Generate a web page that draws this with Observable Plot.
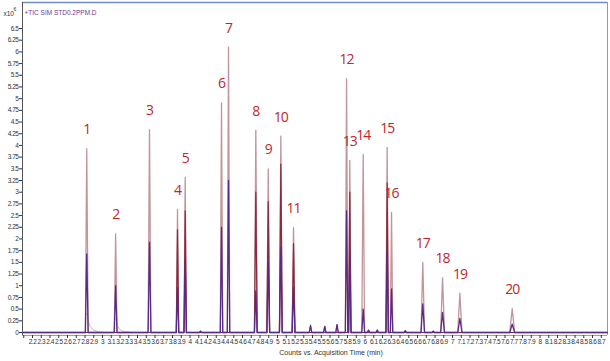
<!DOCTYPE html>
<html><head><meta charset="utf-8">
<script src="https://cdn.jsdelivr.net/npm/d3@7"></script>
<script src="https://cdn.jsdelivr.net/npm/@observablehq/plot@0.6"></script>
<style>body{margin:0;background:#fff}svg{display:block}
g[aria-label="x-axis tick label"] text, g[aria-label="y-axis tick label"] text{letter-spacing:-0.45px}</style>
</head><body><div id="chart"></div>
<script>
// Peak data (time in min, height in counts x10^6)
const peakLabels = ["1","2","3","4","5","6","7","8","9","10","11","12","13","14","15","16","17","18","19","20"];
const peakTimes = [2.82,3.15,3.537,3.857,3.945,4.36,4.44,4.752,4.894,5.038,5.183,5.789,5.826,5.979,6.253,6.303,6.66,6.886,7.084,7.682];
const ticHeights = [3.93,2.11,4.34,2.63,3.32,4.91,6.10,4.32,3.50,4.20,2.24,5.43,3.68,3.81,3.96,2.57,1.50,1.17,0.84,0.51];
const maroonHeights = [0,0,0,2.2,2.6,0,0,3.0,2.8,3.6,1.9,0,3.0,0,3.2,0,0,0,0,0];
const purpleHeights = [1.68,1.0,1.93,0.96,1.53,2.25,3.25,0.89,1.5,1.82,0.96,2.6,1.68,0.5,1.71,0.93,0.61,0.43,0.3,0.18];
const peakWidths = [0.016,0.016,0.016,0.014,0.014,0.014,0.014,0.016,0.016,0.016,0.016,0.014,0.014,0.016,0.014,0.014,0.02,0.022,0.024,0.028];
// small unlabeled peaks
const minorTimes = [4.12,5.377,5.54,5.68,6.04,6.14,6.46,6.78];
const minorHeights = [0.03,0.15,0.13,0.17,0.05,0.05,0.04,0.03];
// tailing of the first peaks (offset from apex in min, height)
const tailOffsets = [0.005,0.02,0.045,0.08,0.13];
const tail1 = [0.4,0.22,0.11,0.05,0.015];
const tail2 = [0.3,0.14,0.07,0.03,0.01];
const yTicks = d3.range(0,27).map(i=>i/4);
const xTicks = d3.range(21,88).map(i=>i/10);

const xMin = 2.0857, xMax = 8.771;

function trace(heights, withMinor){
  const pts = [{t:xMin,v:0}];
  const items = peakTimes.map((t,i)=>({t, h:heights[i], w:peakWidths[i]}));
  if (withMinor) minorTimes.forEach((t,i)=>items.push({t,h:minorHeights[i],w:0.014}));
  items.sort((a,b)=>a.t-b.t);
  for (const p of items){
    if (p.h<=0) continue;
    pts.push({t:p.t-p.w,v:0},{t:p.t,v:p.h},{t:p.t+p.w,v:0});
  }
  pts.push({t:xMax,v:0});
  return pts;
}
function tail(t0, hs){
  return [{t:t0,v:hs[0]}].concat(tailOffsets.map((d,i)=>({t:t0+d,v:hs[i]})),[{t:t0+0.2,v:0}]);
}
const ticData = trace(ticHeights, true);
const maroonData = trace(maroonHeights, false);
const purpleData = trace(purpleHeights, true);
const tailData = [...tail(peakTimes[0],tail1).map(d=>({...d,k:1})), ...tail(peakTimes[1],tail2).map(d=>({...d,k:2}))];

const fmt = d => String(+d.toFixed(2));
const small = "'Liberation Sans',Arial,sans-serif";

const chart = Plot.plot({
  width:610, height:361,
  marginLeft:22, marginRight:3, marginTop:2, marginBottom:26,
  x:{domain:[xMin,xMax]},
  y:{domain:[-0.064,7.056]},
  style:{fontFamily:small, fontSize:"6.5px", background:"#fff", color:"#333"},
  marks:[
    Plot.ruleY([7.056],{stroke:"#6f8fc4", strokeWidth:1.5}),
    Plot.ruleX([xMax],{stroke:"#999"}),
    Plot.line(tailData,{x:"t",y:"v",z:"k",stroke:"#d9b3bd",strokeWidth:1}),
    Plot.line(ticData,{x:"t",y:"v",stroke:"#c0959b",strokeWidth:1.3}),
    Plot.line(maroonData,{x:"t",y:"v",stroke:"#8a2a40",strokeWidth:1.2}),
    Plot.line(purpleData,{x:"t",y:"v",stroke:"#5a2b86",strokeWidth:1.3}),
    Plot.ruleY([-0.064],{stroke:"#8aa4c8"}),
    Plot.ruleX([xMin],{stroke:"#555"}),
    Plot.axisY({ticks:yTicks, tickSize:3, tickPadding:1, tickFormat:fmt, label:null}),
    Plot.axisX({ticks:xTicks, tickSize:3, tickPadding:1, tickFormat:d=> d<2.15 ? "" : fmt(d), label:null}),
    Plot.text(peakLabels,{x:(d,i)=>peakTimes[i], y:(d,i)=>ticHeights[i], text:d=>d, dy:-19,
      fill:"#c0262c", fontSize:14, fontFamily:"'Open Sans',sans-serif", style:"letter-spacing:-1px"}),
    Plot.text(["Counts vs. Acquisition Time (min)"],{frameAnchor:"bottom", dx:16, dy:19, fontSize:7, fill:"#333"}),
    Plot.text(["+TIC SIM STD0.2PPM.D"],{frameAnchor:"top-left", dx:2, dy:8, fontSize:6.5, fill:"#6a3a9a", textAnchor:"start"}),
    Plot.text(["x10"],{frameAnchor:"top-left", dx:-19, dy:9, fontSize:6.5, fill:"#333", textAnchor:"start"}),
    Plot.text(["6"],{frameAnchor:"top-left", dx:-9, dy:5, fontSize:5, fill:"#333", textAnchor:"start"})
  ]
});
chart.querySelectorAll('g[aria-label="text"] text').forEach(t=>{ if (/^\d+$/.test(t.textContent)) t.style.letterSpacing = "-1px"; });
document.getElementById("chart").append(chart);
</script>
</body></html>
